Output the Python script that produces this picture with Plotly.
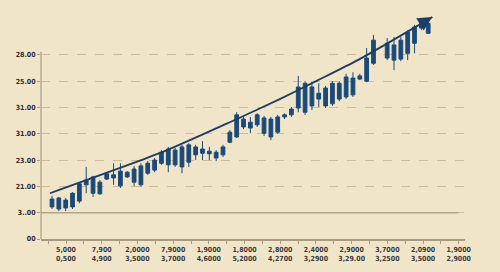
import plotly.graph_objects as go

# ---------------- data ----------------
day = list(range(0, 48)) + list(range(49, 56))   # trading-day slots (one skipped)

opens = [6.1, 7.8, 7.4, 6.1, 7.2, 10.3, 8.7, 10.8, 11.4, 11.6,
         10.1, 12.7, 10.8, 13.9, 12.5, 13.1, 14.4, 14.1, 16.9, 13.7,
         14.6, 17.5, 16.3, 16.7, 16.5, 16.0, 18.4, 19.4, 22.8, 21.1,
         21.7, 23.0, 19.4, 20.3, 23.2, 23.6, 24.9, 29.6, 25.3, 27.7,
         25.3, 25.7, 29.6, 27.0, 27.4, 30.4, 30.0, 33.4, 37.2, 34.0,
         34.2, 35.3, 37.2, 40.1, 41.0]
closes = [7.6, 5.7, 5.9, 8.7, 10.5, 11.2, 11.8, 8.6, 12.4, 12.2,
          12.9, 11.8, 13.3, 10.3, 14.4, 15.0, 16.5, 17.1, 14.1, 17.5,
          17.9, 16.0, 17.1, 16.2, 15.4, 17.5, 20.3, 23.6, 21.3, 22.2,
          23.6, 20.1, 22.8, 23.2, 23.6, 24.7, 28.9, 24.1, 28.9, 26.6,
          28.7, 29.6, 26.6, 30.8, 30.6, 31.0, 34.4, 37.8, 34.4, 36.9,
          37.8, 39.3, 40.3, 41.0, 39.1]
highs = [8.2, 8.0, 7.8, 8.9, 10.6, 13.7, 12.0, 11.2, 12.5, 14.4,
         14.4, 12.9, 13.9, 14.4, 14.8, 15.4, 16.9, 17.5, 17.3, 17.9,
         18.2, 17.9, 18.6, 17.5, 16.9, 17.9, 20.7, 24.1, 23.2, 23.2,
         23.9, 23.4, 23.2, 23.6, 23.9, 25.1, 31.0, 30.0, 29.8, 29.6,
         29.1, 30.0, 30.0, 31.4, 31.7, 31.4, 36.3, 38.8, 38.2, 38.4,
         38.4, 39.7, 40.7, 41.2, 41.2]
lows = [5.7, 5.3, 5.3, 5.7, 6.8, 8.7, 8.0, 8.4, 11.2, 10.3,
        9.7, 11.6, 10.1, 9.9, 12.2, 12.7, 14.1, 12.7, 13.7, 12.5,
        13.7, 15.0, 15.0, 15.0, 14.8, 15.6, 18.2, 19.2, 20.9, 20.1,
        21.3, 19.6, 18.8, 20.0, 22.8, 23.2, 24.1, 23.6, 24.5, 25.1,
        24.9, 25.3, 26.2, 26.6, 27.0, 30.2, 29.8, 33.1, 34.0, 32.1,
        33.8, 34.0, 35.3, 39.7, 39.0]

trend_x = [-0.3, 16.1, 26.0, 33.3, 38.9, 44.7, 53.8]
trend_y = [8.7, 16.5, 22.2, 26.6, 30.2, 34.0, 40.8]
arrow_tip = (55.6, 42.2)

y_tickvals = [0, 5, 10, 15, 20, 25, 30, 35]
y_ticktext = ["00", "3..00", "21.00", "23.00", "31.00", "31.00", "25.00", "28.00"]

x_ticktext = ["5,000<br>0,500", "7,900<br>4,900", "2,0000<br>3,5000",
              "7,9000<br>3,7000", "1,9000<br>4,6000", "1,8000<br>5,2000",
              "2,8000<br>4,2700", "2,4000<br>3,2900", "2,9000<br>3,29.00",
              "3,7000<br>3,2500", "2,0900<br>3,5000", "1,9000<br>2,9000"]

# ---------------- style ----------------
BG = "#f1e5c9"
NAVY = "#1b4a7a"
LINE = "#1d3d63"
AXIS = "#a89b82"
GRID = "#cdbd9c"
FONT = "Liberation Sans Narrow, Arial Narrow, DejaVu Sans Condensed, sans-serif"

label_step = 5.22
label_pos = [2.05 + label_step * k for k in range(len(x_ticktext))]

fig = go.Figure()

fig.add_trace(go.Candlestick(
    x=day, open=opens, high=highs, low=lows, close=closes,
    increasing=dict(line=dict(color=NAVY, width=1), fillcolor=NAVY),
    decreasing=dict(line=dict(color=NAVY, width=1), fillcolor=NAVY),
    whiskerwidth=0, showlegend=False, hoverinfo="skip",
))

fig.add_trace(go.Scatter(
    x=trend_x + [arrow_tip[0]], y=trend_y + [arrow_tip[1]], mode="lines",
    line=dict(color=LINE, width=1.8, shape="spline", smoothing=0.6),
    showlegend=False, hoverinfo="skip",
))

fig.add_annotation(
    x=arrow_tip[0], y=arrow_tip[1], ax=trend_x[-1], ay=trend_y[-1],
    xref="x", yref="y", axref="x", ayref="y",
    showarrow=True, arrowhead=2, arrowsize=1.6, arrowwidth=1.8,
    arrowcolor=LINE, text="",
)

# solid reference line and partial y-axis line
fig.add_shape(type="line", xref="paper", yref="y", x0=0, x1=0.985, y0=5, y1=5,
              line=dict(color="#b3a58a", width=1.6), layer="above")
fig.add_shape(type="line", xref="paper", yref="y", x0=0, x1=0, y0=0, y1=35.6,
              line=dict(color=AXIS, width=1.2), layer="above")

fig.update_layout(
    width=500, height=272,
    margin=dict(l=41, r=35, t=10, b=33),
    paper_bgcolor=BG, plot_bgcolor=BG,
    font=dict(family=FONT, size=7, color="#2e2e2e"),
    showlegend=False,
    boxgap=0.22,
    xaxis=dict(
        range=[-1.61, 60.38], rangeslider=dict(visible=False),
        showgrid=False, zeroline=False,
        showline=True, linecolor=AXIS, linewidth=1.5,
        tickmode="array", tickvals=label_pos, ticktext=x_ticktext,
        ticks="outside", ticklen=3, tickcolor=AXIS, tickwidth=1,
        tickfont=dict(family=FONT, size=7, color="#3a3a3a", weight="bold"),
        minor=dict(tickmode="linear", tick0=label_pos[0] - label_step / 2,
                   dtick=label_step / 2, ticks="outside", ticklen=3,
                   tickcolor=AXIS, showgrid=False),
    ),
    yaxis=dict(
        range=[0, 43.53], showline=False, zeroline=False,
        tickmode="array", tickvals=y_tickvals, ticktext=y_ticktext,
        showgrid=True, gridcolor=GRID, griddash="dash", gridwidth=1,
        ticks="outside", ticklen=3, tickcolor=AXIS,
        tickfont=dict(family=FONT, size=7, color="#2e2e2e", weight="bold"),
    ),
)

fig.write_html("out.html")
